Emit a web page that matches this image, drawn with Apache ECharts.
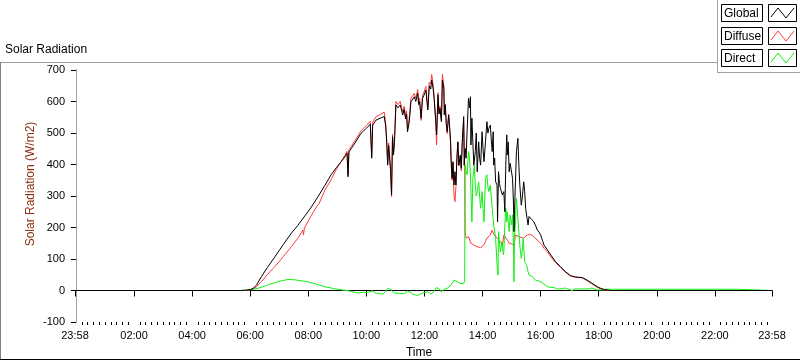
<!DOCTYPE html>
<html><head><meta charset="utf-8">
<script src="https://cdn.jsdelivr.net/npm/echarts@6/dist/echarts.min.js"></script>
<style>html,body{margin:0;padding:0;background:#fff}#c{width:800px;height:361px}</style>
</head><body><div id="c"></div>
<script>
// time in minutes since 00:00 (axis runs 23:58 -> 23:58)
const xTickValues = [-2,120,240,360,480,600,720,840,960,1080,1200,1320,1438];
const xTickLabels = ['23:58','02:00','04:00','06:00','08:00','10:00','12:00','14:00','16:00','18:00','20:00','22:00','23:58'];
const xMinorTicks = [];
for (let m = 12; m < 1438; m += 12) { if (m % 120 !== 0) xMinorTicks.push(m); }
const yTicks = [-100,0,100,200,300,400,500,600,700];
const seriesNames = ['Global','Diffuse','Direct'];

const globalData = [[-2,0],[340,0],[352,1],[360,3],[366,7],[373,17],[383,44],[395,72],[411,107],[428,145],[445,182],[458,206],[469,229],[485,262],[500,298],[514,333],[527,367],[538,390],[548,409],[556,425],[560,436],[562,361],[564,440],[575,465],[589,499],[600,515],[608,528],[610,531],[611,420],[613,525],[620,541],[630,548],[637,552],[640,520],[642,470],[644,398],[646,460],[648,420],[650,380],[652,303],[654,488],[656,430],[658,470],[661,589],[665,580],[670,589],[673,570],[675,557],[678,575],[681,545],[683,560],[685,504],[688,530],[690,560],[692,599],[696,605],[699,615],[702,600],[706,626],[708,590],[710,600],[713,547],[716,610],[719,620],[723,636],[725,600],[727,573],[730,650],[733,640],[735,668],[738,640],[740,610],[743,547],[745,494],[748,621],[750,560],[752,578],[755,536],[757,668],[760,642],[761,557],[763,589],[765,530],[767,504],[770,557],[772,520],[774,472],[775,420],[777,356],[779,409],[781,335],[783,377],[785,335],[787,420],[789,472],[791,398],[794,430],[796,388],[798,470],[801,552],[802,398],[804,451],[806,420],[808,504],[811,610],[813,580],[815,615],[816,462],[818,547],[820,470],[822,398],[825,441],[827,500],[829,377],[832,472],[834,420],[836,398],[839,504],[841,450],[843,409],[846,472],[849,536],[851,500],[853,515],[856,525],[858,480],[860,441],[862,504],[863,398],[865,420],[867,345],[870,335],[871,218],[873,377],[875,340],[877,324],[881,303],[884,314],[886,250],[888,398],[890,494],[891,430],[893,472],[895,377],[897,404],[900,398],[902,356],[904,271],[905,187],[907,300],[908,345],[910,441],[913,483],[915,398],[917,335],[920,271],[922,293],[925,345],[927,314],[929,261],[932,229],[934,208],[936,235],[939,229],[942,225],[946,218],[950,205],[953,192],[957,185],[960,176],[964,158],[967,144],[974,129],[981,113],[991,91],[1001,76],[1011,60],[1022,47],[1032,43],[1046,41],[1056,33],[1066,23],[1077,12],[1084,7],[1090,4],[1104,0],[1438,0]];

const diffuseData = [[-2,0],[340,0],[352,1],[360,2],[366,5],[373,12],[383,28],[395,50],[411,76],[428,107],[445,139],[458,165],[469,192],[470,176],[472,198],[485,235],[498,268],[500,262],[502,275],[514,318],[527,351],[538,385],[548,410],[556,430],[560,442],[562,368],[564,447],[575,472],[589,507],[600,524],[608,537],[610,540],[611,428],[613,534],[620,552],[630,560],[637,566],[640,528],[642,478],[644,405],[646,468],[648,428],[650,388],[652,298],[654,496],[656,438],[658,478],[661,600],[665,590],[670,600],[673,580],[675,566],[678,585],[681,553],[683,570],[685,512],[688,540],[690,570],[692,610],[696,616],[699,626],[702,610],[706,638],[708,600],[710,610],[713,540],[716,620],[719,630],[723,648],[725,610],[727,580],[730,662],[733,655],[735,686],[738,650],[740,612],[743,540],[745,462],[748,628],[750,565],[752,585],[755,540],[757,686],[760,650],[761,560],[763,592],[765,530],[767,498],[770,560],[772,515],[774,465],[775,410],[777,350],[779,405],[781,300],[783,282],[785,330],[787,418],[789,470],[791,395],[794,425],[796,380],[798,460],[801,540],[803,420],[804,187],[806,166],[808,172],[811,171],[813,168],[816,150],[818,152],[822,144],[825,142],[829,139],[832,140],[836,136],[839,140],[843,145],[846,155],[849,166],[853,170],[856,176],[860,192],[863,180],[867,172],[870,170],[873,162],[877,155],[881,144],[884,176],[888,170],[891,160],[895,150],[900,148],[905,144],[908,176],[912,170],[915,171],[920,168],[925,166],[929,172],[932,176],[936,178],[939,178],[943,175],[946,171],[950,166],[953,160],[957,156],[960,150],[964,142],[967,134],[974,123],[981,107],[991,88],[1001,74],[1011,58],[1022,46],[1032,42],[1046,40],[1056,31],[1066,21],[1077,10],[1084,5],[1090,2],[1104,0],[1438,0]];

const directData = [[-2,0],[348,0],[356,2],[366,4],[376,7],[390,14],[400,20],[411,25],[425,31],[438,35],[452,34],[465,31],[479,28],[496,20],[514,12],[530,7],[548,2],[560,0],[569,-3],[582,-8],[592,-6],[603,-6],[608,-3],[613,-1],[618,-8],[626,-9],[634,-12],[640,-2],[644,7],[648,5],[651,2],[658,-8],[668,-9],[679,-10],[685,-2],[690,-5],[696,-12],[700,-14],[706,-16],[711,-12],[716,-8],[722,-6],[727,-4],[733,-12],[738,-6],[741,2],[744,9],[747,9],[751,5],[754,-4],[758,2],[761,4],[764,9],[768,8],[772,14],[775,17],[778,24],[781,33],[784,30],[788,28],[792,24],[795,22],[798,24],[801,22],[803,30],[804,398],[806,380],[808,367],[811,441],[813,420],[815,367],[818,218],[820,356],[823,398],[825,335],[827,300],[829,314],[832,345],[834,300],[836,261],[839,314],[841,260],[843,218],[846,356],[849,367],[851,330],[853,314],[856,335],[858,300],[860,261],[863,208],[865,190],[867,166],[870,81],[872,49],[873,187],[875,150],[877,123],[880,155],[881,144],[883,113],[884,123],[886,208],[888,261],[890,218],[891,250],[893,220],[895,187],[897,240],[900,208],[902,240],[904,134],[905,28],[906,166],[908,218],[910,293],[912,298],[913,229],[915,187],[917,144],[920,102],[922,123],[924,166],[927,91],[931,81],[934,60],[936,49],[939,54],[943,44],[946,39],[950,32],[953,28],[957,30],[960,26],[964,24],[967,20],[974,12],[981,10],[988,9],[994,5],[1002,5],[1010,8],[1016,5],[1025,0],[1030,5],[1060,5],[1066,8],[1070,5],[1075,2],[1090,2],[1095,4],[1365,4],[1367,0],[1438,0]];

const FONT = 'Liberation Sans, Arial, sans-serif';
const chart = echarts.init(document.getElementById('c'), null, {renderer: 'canvas'});

function legendItem(name, color, top) {
  return [
    {type:'rect', shape:{x:721.5, y:top+0.5, width:41, height:17}, style:{fill:'#fff', stroke:'#000', lineWidth:1}},
    {type:'text', x:724, y:top+9.5, style:{text:name, font:'12px ' + FONT, fill:'#000', verticalAlign:'middle', align:'left'}},
    {type:'rect', shape:{x:768.5, y:top+0.5, width:28, height:17}, style:{fill:'#fff', stroke:'#000', lineWidth:1}},
    {type:'polyline', shape:{points:[[771,top+13],[778,top+4],[786,top+14],[794,top+4]]}, style:{stroke:color, lineWidth:1, fill:null}}
  ];
}

const colors = {Global:'#000000', Diffuse:'#ff3a3a', Direct:'#10f010'};

const graphics = [
  {type:'line', shape:{x1:0, y1:62.5, x2:717, y2:62.5}, style:{stroke:'#a0a0a0', lineWidth:1}},
  {type:'line', shape:{x1:0.5, y1:62, x2:0.5, y2:359}, style:{stroke:'#808080', lineWidth:1}},
  {type:'line', shape:{x1:0, y1:359.5, x2:800, y2:359.5}, style:{stroke:'#000', lineWidth:1}},
  {type:'line', shape:{x1:717.5, y1:0, x2:717.5, y2:72}, style:{stroke:'#a0a0a0', lineWidth:1}},
  {type:'line', shape:{x1:717, y1:72.5, x2:800, y2:72.5}, style:{stroke:'#a0a0a0', lineWidth:1}},
  {type:'text', x:5, y:50, style:{text:'Solar Radiation', font:'12px ' + FONT, fill:'#000', verticalAlign:'middle'}},
  {type:'text', x:31, y:184, rotation:Math.PI/2, style:{text:'Solar Radiation (W/m2)', font:'12px ' + FONT, fill:'#8c2e0b', align:'center', verticalAlign:'middle'}},
  {type:'text', x:419, y:353, style:{text:'Time', font:'12px ' + FONT, fill:'#000', align:'center', verticalAlign:'middle'}}
].concat(legendItem('Global', colors.Global, 4), legendItem('Diffuse', colors.Diffuse, 27), legendItem('Direct', colors.Direct, 49));

function lineSeries(name, data, z) {
  return {name, type:'line', data, showSymbol:false, symbol:'none', z, xAxisIndex:0, yAxisIndex:0,
    lineStyle:{color:colors[name], width:1}, itemStyle:{color:colors[name]}, emphasis:{disabled:true}};
}

chart.setOption({
  animation:false,
  backgroundColor:'#fff',
  grid:{left:75, right:28, top:70, bottom:39, containLabel:false},
  xAxis:[
    {type:'value', min:-2, max:1438, position:'bottom',
      axisLine:{show:true, lineStyle:{color:'#a0a0a0', width:1}},
      axisTick:{show:true, length:6, customValues:xTickValues, lineStyle:{color:'#000'}},
      axisLabel:{show:true, customValues:xTickValues, margin:8, fontSize:11, fontFamily:FONT, color:'#000',
        formatter:(v)=>xTickLabels[xTickValues.indexOf(v)] || ''},
      splitLine:{show:false}},
    {type:'value', min:-2, max:1438, position:'top',
      axisLine:{show:true, lineStyle:{color:'#000', width:1}}, axisTick:{show:false}, axisLabel:{show:false}, splitLine:{show:false}},
    {type:'value', min:-2, max:1438, position:'bottom',
      axisLine:{show:false}, axisTick:{show:true, length:3, customValues:xMinorTicks, lineStyle:{color:'#000'}},
      axisLabel:{show:false}, splitLine:{show:false}}
  ],
  yAxis:[
    {type:'value', min:-100, max:700, interval:100, position:'left', offset:2,
      axisLine:{show:true, lineStyle:{color:'#000', width:1}},
      axisTick:{show:true, length:5, lineStyle:{color:'#000'}},
      axisLabel:{margin:8, fontSize:11, fontFamily:FONT, color:'#000'},
      splitLine:{show:false}},
    {type:'value', min:-100, max:700, interval:100, position:'right',
      axisLine:{show:true, lineStyle:{color:'#a0a0a0', width:1}}, axisTick:{show:false}, axisLabel:{show:false}, splitLine:{show:false}}
  ],
  series:[
    lineSeries('Diffuse', diffuseData, 2),
    lineSeries('Direct', directData, 3),
    lineSeries('Global', globalData, 4)
  ],
  graphic:graphics
});
</script></body></html>
